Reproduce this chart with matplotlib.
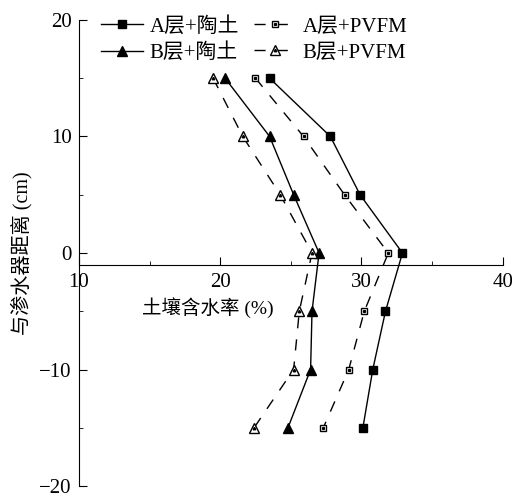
import matplotlib
matplotlib.use("Agg")
import matplotlib.pyplot as plt
from matplotlib.ticker import MultipleLocator
from matplotlib.legend_handler import HandlerTuple

plt.rcParams['font.family'] = ['Liberation Serif', 'Noto Sans CJK SC']

# distance from the emitter (cm)
dist = [15, 10, 5, 0, -5, -10, -15]

# soil water content (%)
a_clay = [23.5, 27.8, 29.9, 32.9, 31.7, 30.8, 30.1]
a_pvfm = [22.5, 25.9, 28.8, 31.9, 30.2, 29.1, 27.3]
b_clay = [20.35, 23.5, 25.2, 27.0, 26.5, 26.4, 24.8]
b_pvfm = [19.5, 21.6, 24.25, 26.5, 25.6, 25.2, 22.4]

names = ['A层+陶土', 'A层+PVFM', 'B层+陶土', 'B层+PVFM']

fig = plt.figure(figsize=(5.12, 4.99), dpi=100)
ax = fig.add_axes([0.154, 0.026, 0.828, 0.934])

dash = (0, (8, 8))
l1, = ax.plot(a_clay, dist, '-', color='k', lw=1, marker='s', ms=5.5, mfc='k')
l2, = ax.plot(a_pvfm, dist, linestyle=dash, color='k', lw=1, marker='s', ms=5, mfc='white', mew=1)
d2, = ax.plot(a_pvfm, dist, linestyle='none', color='k', marker='s', ms=1.3)
l3, = ax.plot(b_clay, dist, '-', color='k', lw=1, marker='^', ms=7, mfc='k')
l4, = ax.plot(b_pvfm, dist, linestyle=dash, color='k', lw=1, marker='^', ms=6.5, mfc='white', mew=1)
d4, = ax.plot(b_pvfm, dist, linestyle='none', color='k', marker='^', ms=1.8)

ax.set_xlim(10, 40)
ax.set_ylim(-20, 20)
ax.spines['top'].set_visible(False)
ax.spines['right'].set_visible(False)
ax.spines['bottom'].set_position(('data', -1))

ax.xaxis.set_major_locator(MultipleLocator(10))
ax.xaxis.set_minor_locator(MultipleLocator(5))
ax.yaxis.set_major_locator(MultipleLocator(10))
ax.yaxis.set_minor_locator(MultipleLocator(5))
ax.tick_params(which='both', direction='in', labelsize=15)
ax.tick_params(which='major', length=6)
ax.tick_params(which='minor', length=3)
ax.tick_params(axis='x', pad=6)
ax.tick_params(axis='y', pad=5)

ax.set_xlabel('土壤含水率 (%)', fontsize=14)
ax.xaxis.set_label_coords(0.305, 0.405)
ax.set_ylabel('与渗水器距离 (cm)', fontsize=14.5)
ax.yaxis.set_label_coords(-0.11, 0.5)

ax.legend([l1, l3, (l2, d2), (l4, d4)], [names[0], names[2], names[1], names[3]],
          handler_map={tuple: HandlerTuple(ndivide=1)},
          ncol=2, frameon=False, fontsize=15, loc='upper left',
          bbox_to_anchor=(0.197, 0.966), bbox_transform=fig.transFigure,
          handlelength=2.0, handletextpad=0.35, columnspacing=0.7,
          labelspacing=0.3, borderpad=0, borderaxespad=0)

fig.savefig('out.png', dpi=100)
